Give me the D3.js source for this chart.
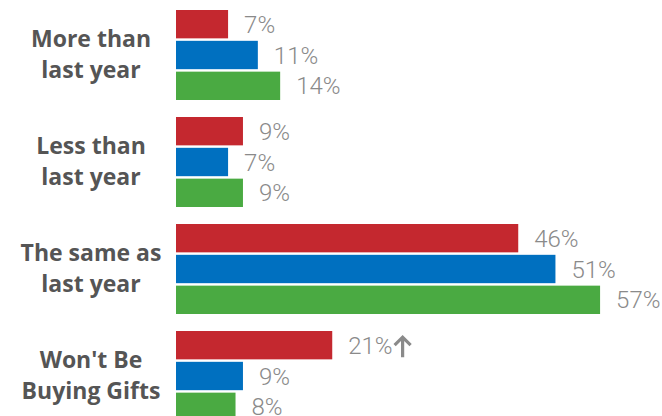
<!DOCTYPE html>
<meta charset="utf-8">
<script src="https://d3js.org/d3.v7.min.js"></script>
<style>
  body { margin: 0; background: #fff; }
</style>
<svg id="chart" width="662" height="416"></svg>
<script>

// Data
const categories = ["More than last year", "Less than last year", "The same as last year", "Won't Be Buying Gifts"];
const categoryLines = [["More than", "last year"], ["Less than", "last year"], ["The same as", "last year"], ["Won't Be", "Buying Gifts"]];
const seriesNames = ["A", "B", "C"];
const seriesA = [7, 9, 46, 21];
const seriesB = [11, 7, 51, 9];
const seriesC = [14, 9, 57, 8];
const colors = ["#c4282f", "#0070c0", "#4aaa42"];

const svg = d3.select("#chart"),
    width = +svg.attr("width"),
    height = +svg.attr("height");

const allSeries = [seriesA, seriesB, seriesC];

// Scales
const x = d3.scaleLinear()
    .domain([0, 60])
    .range([176, 176 + 7.44 * 60]);

const y0 = d3.scaleBand()
    .domain(categories)
    .range([10, 421])
    .paddingInner(17 / 107);

const y1 = d3.scaleBand()
    .domain(seriesNames)
    .range([0, y0.bandwidth()])
    .paddingInner(0.08);

const groups = svg.append("g")
  .selectAll("g")
  .data(categories)
  .join("g")
    .attr("transform", d => `translate(0,${y0(d)})`);

// bars
groups.selectAll("rect")
  .data((d, i) => seriesNames.map((s, j) => ({ s: s, j: j, v: allSeries[j][i] })))
  .join("rect")
    .attr("x", x(0))
    .attr("y", d => y1(d.s))
    .attr("width", d => x(d.v) - x(0))
    .attr("height", y1.bandwidth())
    .attr("fill", d => colors[d.j]);

// value labels
groups.selectAll("text.val")
  .data((d, i) => seriesNames.map((s, j) => ({ s: s, j: j, v: allSeries[j][i], cat: i })))
  .join("text")
    .attr("class", "val")
    .attr("x", d => x(d.v) + 16)
    .attr("y", d => y1(d.s) + y1.bandwidth() / 2)
    .attr("dy", "0.36em")
    .style("font-family", "Roboto, 'Open Sans', sans-serif")
    .style("font-weight", 300)
    .style("font-size", "24px")
    .style("fill", "#8a8a8a")
    .text(d => d.v + "%");

// up arrow after the "Won't Be Buying Gifts" first value
const arrowLabel = groups.selectAll("text.val").filter(d => d.cat === 3 && d.j === 0).node();
const bb = arrowLabel.getBBox();
const gy = y0(categories[3]);
const ax = bb.x + bb.width + 10, ay = gy + y1(seriesNames[0]) + y1.bandwidth() / 2 + 1;
svg.append("path")
    .attr("d", `M${ax},${ay + 11} L${ax},${ay - 9} M${ax - 8},${ay - 1} L${ax},${ay - 9} L${ax + 8},${ay - 1}`)
    .attr("fill", "none")
    .attr("stroke", "#8a8a8a")
    .attr("stroke-width", 3.2)
    .attr("stroke-linejoin", "miter");

// category labels
groups.append("text")
    .attr("x", 91)
    .attr("y", y0.bandwidth() / 2)
    .attr("text-anchor", "middle")
    .style("font-family", "'Open Sans', sans-serif")
    .style("font-weight", 700)
    .style("font-size", "23px")
    .style("fill", "#555")
  .selectAll("tspan")
  .data((d, i) => categoryLines[i])
  .join("tspan")
    .attr("x", 91)
    .attr("dy", (d, i) => i === 0 ? "-0.36em" : "1.36em")
    .text(d => d);

</script>
